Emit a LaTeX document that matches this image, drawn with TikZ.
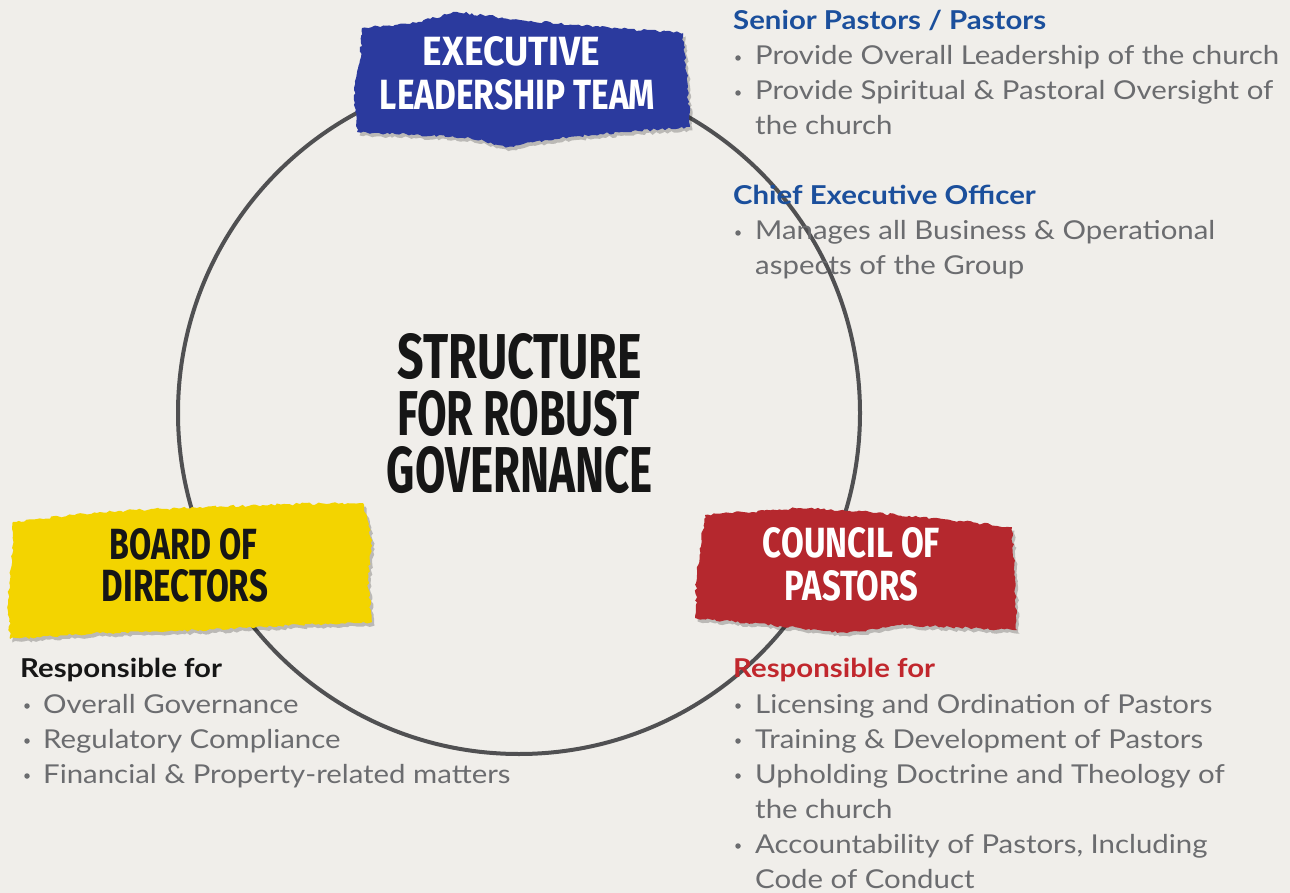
\documentclass[tikz,border=0pt]{standalone}
\usepackage{fontspec}
\usepackage{graphicx}
\setmainfont{Lato}
\newfontfamily\bodyfont[FakeStretch=1.13]{Lato}
\newfontfamily\condfont{Fira Sans}
\usetikzlibrary{decorations.pathmorphing}
\definecolor{bgc}{HTML}{F0EEEA}
\definecolor{ringc}{HTML}{505052}
\definecolor{patchblue}{HTML}{2B3A9E}
\definecolor{patchyellow}{HTML}{F3D400}
\definecolor{patchred}{HTML}{B5282E}
\definecolor{headblue}{HTML}{1B4F9C}
\definecolor{headred}{HTML}{C1272D}
\definecolor{bodygray}{HTML}{6B6C6F}
\definecolor{headblack}{HTML}{161616}
\newcommand{\fitline}[3]{\resizebox{#1pt}{#2pt}{\condfont\bfseries #3}}
\tikzset{
  torn/.style={decorate, decoration={random steps, segment length=3pt, amplitude=1.3pt},
    preaction={fill=black, opacity=0.22, transform canvas={shift={(2.5pt,-3.5pt)}}}},
  cond/.style={anchor=base, inner sep=0pt},
  bodytxt/.style={anchor=base west, inner sep=0pt, text=bodygray, font=\bodyfont\fontsize{26}{30}\selectfont},
  headtxt/.style={anchor=base west, inner sep=0pt, font=\bodyfont\bfseries\fontsize{26}{30}\selectfont},
  bulletdot/.style={circle, fill=bodygray, inner sep=0pt, minimum size=5.5pt}
}
\begin{document}
\begin{tikzpicture}[x=1pt,y=-1pt]
\pgfmathsetseed{7}
\fill[bgc] (0,0) rectangle (1290,893);
\useasboundingbox (0,0) rectangle (1290,893);

% ring
\draw[ringc, line width=4pt] (519,413) circle[radius=341];

% blue patch
\fill[patchblue, torn] (362,28) -- (410,24) -- (457,12) -- (520,20) -- (600,27) -- (683,33) -- (687,80) -- (690,127) -- (600,134) -- (545,140) -- (508,147) -- (470,138) -- (420,135) -- (357,132) -- (354,90) -- (360,60) -- cycle;
% yellow patch
\fill[patchyellow, torn] (13,522) -- (100,512) -- (200,507) -- (300,504) -- (363,503) -- (372,540) -- (368,580) -- (372,622) -- (300,625) -- (200,630) -- (100,633) -- (10,639) -- (8,600) -- (12,560) -- cycle;
% red patch
\fill[patchred, torn] (705,515) -- (800,508) -- (870,512) -- (950,520) -- (1012,527) -- (1015,580) -- (1017,630) -- (950,627) -- (900,625) -- (847,633) -- (780,626) -- (695,618) -- (697,570) -- cycle;

% patch labels
\node[cond, text=white] (exec1) at (511.5,66) {\fitline{177}{29}{EXECUTIVE}};
\node[cond, text=white] (exec2) at (517.5,110) {\fitline{275}{30}{LEADERSHIP TEAM}};
\node[cond, text=headblack] (bod1) at (183.5,559) {\fitline{147}{31}{BOARD OF}};
\node[cond, text=headblack] (bod2) at (185,601) {\fitline{166}{32}{DIRECTORS}};
\node[cond, text=white] (cop1) at (851.5,557) {\fitline{177}{30}{COUNCIL OF}};
\node[cond, text=white] (cop2) at (851.5,600) {\fitline{133}{30}{PASTORS}};

% centre title
\node[cond, text=headblack] (t1) at (520,378) {\fitline{244}{45}{STRUCTURE}};
\node[cond, text=headblack] (t2) at (518.5,435) {\fitline{243}{45}{FOR ROBUST}};
\node[cond, text=headblack] (t3) at (520,492) {\fitline{266}{46}{GOVERNANCE}};

% top right text
\node[headtxt, text=headblue] (sp) at (733,30) {Senior Pastors / Pastors};
\node[bulletdot] (sb1) at (738,58) {};
\node[bodytxt] (s1) at (755,65) {Provide Overall Leadership of the church};
\node[bulletdot] (sb2) at (738,93) {};
\node[bodytxt] (s2) at (755,100) {Provide Spiritual \& Pastoral Oversight of};
\node[bodytxt] (s3) at (755,135) {the church};
\node[headtxt, text=headblue] (ceo) at (733,205) {Chief Executive Officer};
\node[bulletdot] (cb1) at (738,233) {};
\node[bodytxt] (c1) at (755,240) {Manages all Business \& Operational};
\node[bodytxt] (c2) at (755,275) {aspects of the Group};

% bottom left text
\node[headtxt, text=headblack] (rl) at (20,677) {Responsible for};
\node[bulletdot] (lb1) at (27,706) {};
\node[bodytxt] (l1) at (43,713) {Overall Governance};
\node[bulletdot] (lb2) at (27,741) {};
\node[bodytxt] (l2) at (43,748) {Regulatory Compliance};
\node[bulletdot] (lb3) at (27,776) {};
\node[bodytxt] (l3) at (43,783) {Financial \& Property-related matters};

% bottom right text
\node[headtxt, text=headred] (rr) at (733,677) {Responsible for};
\node[bulletdot] (rb1) at (738,706) {};
\node[bodytxt] (r1) at (755,713) {Licensing and Ordination of Pastors};
\node[bulletdot] (rb2) at (738,741) {};
\node[bodytxt] (r2) at (755,748) {Training \& Development of Pastors};
\node[bulletdot] (rb3) at (738,776) {};
\node[bodytxt] (r3) at (755,783) {Upholding Doctrine and Theology of};
\node[bodytxt] (r4) at (755,818) {the church};
\node[bulletdot] (rb4) at (738,846) {};
\node[bodytxt] (r5) at (755,853) {Accountability of Pastors, Including};
\node[bodytxt] (r6) at (755,888) {Code of Conduct};
\end{tikzpicture}
\end{document}
